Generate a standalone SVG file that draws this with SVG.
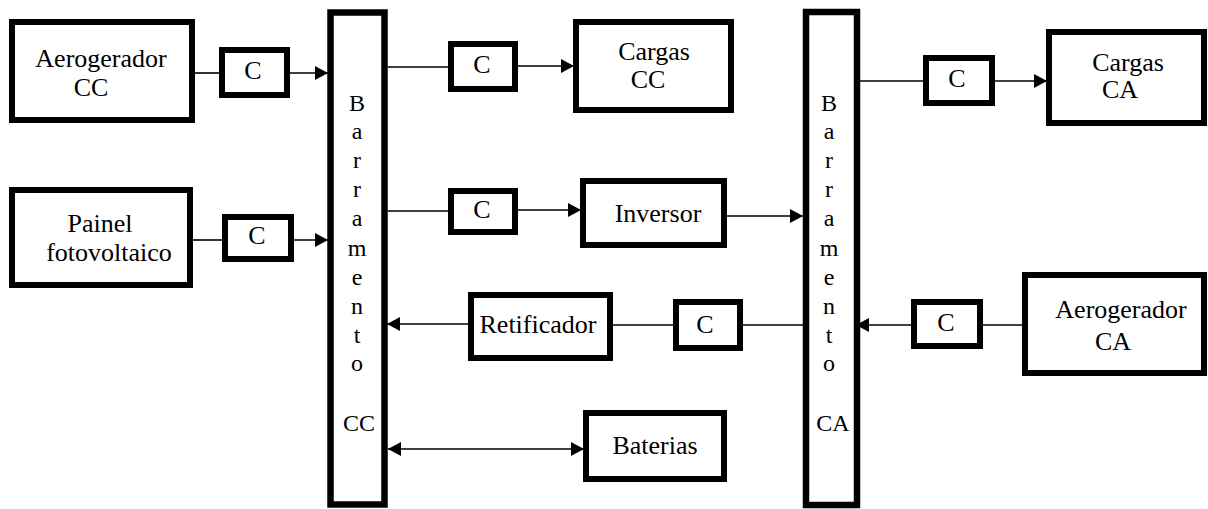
<svg xmlns="http://www.w3.org/2000/svg" width="1208" height="509" viewBox="0 0 1208 509">
<style>
.box{fill:#fff;stroke:#000;stroke-width:6}
.bus{fill:#fff;stroke:#000;stroke-width:6.5}
.t{font-size:26px;fill:#000;text-anchor:middle}
.bt{font-size:24px;fill:#000;text-anchor:middle}
.ln{stroke:#000;stroke-width:1.6;fill:none}
.ar{stroke:#000;stroke-width:1.6;fill:none;marker-end:url(#ah)}
.ar2{stroke:#000;stroke-width:1.6;fill:none;marker-end:url(#ah);marker-start:url(#ah)}
</style>
<defs>
<marker id="ah" markerUnits="userSpaceOnUse" markerWidth="13" markerHeight="14" refX="13" refY="7" orient="auto-start-reverse">
<path d="M0,0 L13,7 L0,14 z" fill="#000"/>
</marker>
</defs>
<rect width="1208" height="509" fill="#fff"/>
<g id="connectors">
<line class="ln" x1="195" y1="73" x2="222" y2="73"/>
<line class="ar" x1="290" y1="73" x2="328" y2="73"/>
<line class="ln" x1="388" y1="67" x2="451" y2="67"/>
<line class="ar" x1="518" y1="66" x2="574" y2="66"/>
<line class="ln" x1="388" y1="211" x2="451" y2="211"/>
<line class="ar" x1="518" y1="210" x2="581" y2="210"/>
<line class="ar" x1="727" y1="216" x2="803" y2="216"/>
<line class="ln" x1="860" y1="81" x2="926" y2="81"/>
<line class="ar" x1="995" y1="81" x2="1047" y2="81"/>
<line class="ln" x1="193" y1="240" x2="225" y2="240"/>
<line class="ar" x1="294" y1="240" x2="328" y2="240"/>
<line class="ar" x1="468" y1="324" x2="387" y2="324"/>
<line class="ln" x1="613" y1="325" x2="676" y2="325"/>
<line class="ln" x1="743" y1="325" x2="803" y2="325"/>
<line class="ar" x1="911" y1="325" x2="856" y2="325"/>
<line class="ln" x1="983" y1="325" x2="1025" y2="325"/>
<line class="ar2" x1="388" y1="449" x2="584" y2="449"/>
</g>
<g font-family="Liberation Serif, DejaVu Serif, Times New Roman, serif">
<g id="aerogerador-cc"><rect class="box" x="12" y="22" width="180" height="98"/><text class="t" x="101" y="67">Aerogerador</text><text class="t" x="91" y="96">CC</text></g>
<g id="c1"><rect class="box" x="222" y="50" width="65" height="45"/><text class="t" x="253" y="79">C</text></g>
<g id="painel"><rect class="box" x="12" y="190" width="178" height="95"/><text class="t" x="100" y="232">Painel</text><text class="t" x="109" y="261">fotovoltaico</text></g>
<g id="c5"><rect class="box" x="225" y="217" width="66" height="42"/><text class="t" x="257" y="244">C</text></g>
<g id="barramento-cc"><rect class="bus" x="330.5" y="12.5" width="54" height="492"/>
<text class="bt" x="357" y="111">B</text><text class="bt" x="357" y="139">a</text><text class="bt" x="357" y="168">r</text><text class="bt" x="357" y="197">r</text><text class="bt" x="357" y="226">a</text><text class="bt" x="357" y="256">m</text><text class="bt" x="357" y="285">e</text><text class="bt" x="357" y="314">n</text><text class="bt" x="357" y="343">t</text><text class="bt" x="357" y="371">o</text><text class="bt" x="359" y="431">CC</text></g>
<g id="c2"><rect class="box" x="451" y="44" width="64" height="45"/><text class="t" x="482" y="73">C</text></g>
<g id="cargas-cc"><rect class="box" x="576" y="22" width="155" height="88"/><text class="t" x="654" y="60">Cargas</text><text class="t" x="648" y="88">CC</text></g>
<g id="c3"><rect class="box" x="451" y="191" width="64" height="41"/><text class="t" x="482" y="218">C</text></g>
<g id="inversor"><rect class="box" x="583" y="181" width="141" height="64"/><text class="t" x="658" y="222">Inversor</text></g>
<g id="retificador"><rect class="box" x="471" y="295" width="139" height="63"/><text class="t" x="538" y="333">Retificador</text></g>
<g id="c6"><rect class="box" x="676" y="302" width="64" height="46"/><text class="t" x="705" y="333">C</text></g>
<g id="baterias"><rect class="box" x="586" y="413" width="138" height="66"/><text class="t" x="655" y="454">Baterias</text></g>
<g id="barramento-ca"><rect class="bus" x="806" y="12" width="51" height="493"/>
<text class="bt" x="829" y="111">B</text><text class="bt" x="829" y="139">a</text><text class="bt" x="829" y="168">r</text><text class="bt" x="829" y="197">r</text><text class="bt" x="829" y="226">a</text><text class="bt" x="829" y="256">m</text><text class="bt" x="829" y="285">e</text><text class="bt" x="829" y="314">n</text><text class="bt" x="829" y="343">t</text><text class="bt" x="829" y="371">o</text><text class="bt" x="833" y="431">CA</text></g>
<g id="c4"><rect class="box" x="926" y="58" width="66" height="45"/><text class="t" x="957" y="87">C</text></g>
<g id="cargas-ca"><rect class="box" x="1049" y="32" width="155" height="91"/><text class="t" x="1128" y="71">Cargas</text><text class="t" x="1120" y="98">CA</text></g>
<g id="c7"><rect class="box" x="914" y="302" width="66" height="44"/><text class="t" x="946" y="331">C</text></g>
<g id="aerogerador-ca"><rect class="box" x="1025" y="275" width="179" height="98"/><text class="t" x="1121" y="318">Aerogerador</text><text class="t" x="1113" y="350">CA</text></g>
</g>
</svg>
